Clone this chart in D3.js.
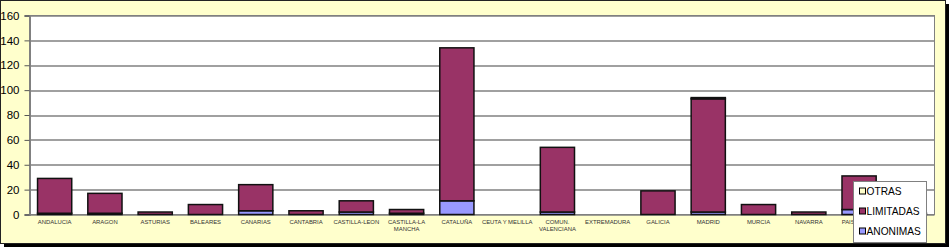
<!DOCTYPE html>
<html>
<head>
<meta charset="utf-8">
<script src="https://cdn.jsdelivr.net/npm/d3@7"></script>
<style>
  body { margin: 0; background: #fff; }
  svg { display: block; font-family: "Liberation Sans", Arial, sans-serif; }
</style>
</head>
<body>
<div id="chart"></div>
<script>

// regions (x axis)
var regions = ["ANDALUCIA", "ARAGON", "ASTURIAS", "BALEARES", "CANARIAS", "CANTABRIA",
  "CASTILLA-LEON", "CASTILLA-LA MANCHA", "CATALUÑA", "CEUTA Y MELILLA", "COMUN. VALENCIANA",
  "EXTREMADURA", "GALICIA", "MADRID", "MURCIA", "NAVARRA", "PAIS VASCO", "LA RIOJA"];

// multi-line labels as they appear under the axis
var regionLabels = {
  "CASTILLA-LA MANCHA": ["CASTILLA-LA", "MANCHA"],
  "COMUN. VALENCIANA": ["COMUN.", "VALENCIANA"]
};

// series values, one per region
var anonimas  = [1, 1, 0, 0, 3, 0, 2, 1, 11, 0, 2, 0, 0, 2, 0, 0, 4, 0];
var limitadas = [28, 16, 2, 8, 21, 3, 9, 3, 123, 0, 52, 0, 19, 91, 8, 2, 27, 1];
var otras     = [0, 0, 0, 0, 0, 0, 0, 0, 0, 0, 0, 0, 0, 1, 0, 0, 0, 0];

var seriesNames = ["ANONIMAS", "LIMITADAS", "OTRAS"];
var seriesColors = ["#9999FF", "#993366", "#FFFFCC"];
var yTicks = [0, 20, 40, 60, 80, 100, 120, 140, 160];

var svgWidth = 951;
var svgHeight = 248;

var margin = { top: 15.5, left: 29.5, right: 16.5, bottom: 33.5 };
var width = svgWidth - margin.left - margin.right;
var height = svgHeight - margin.top - margin.bottom;

var svg = d3.select("#chart")
  .append("svg")
  .attr("width", svgWidth)
  .attr("height", svgHeight);

// frame with shadow
svg.append("rect")
  .attr("x", 4).attr("y", 4)
  .attr("width", 945).attr("height", 243)
  .attr("fill", "#000");
svg.append("rect")
  .attr("x", 0.5).attr("y", 0.5)
  .attr("width", 945).attr("height", 243)
  .attr("fill", "#FFFFCC")
  .attr("stroke", "#222");

var chartGroup = svg.append("g")
  .attr("transform", `translate(${margin.left}, ${margin.top})`);

// plot area
chartGroup.append("rect")
  .attr("width", width).attr("height", height)
  .attr("fill", "#fff")
  .attr("stroke", "#808080");

// scales
var xScale = d3.scaleBand()
  .domain(regions)
  .range([0, width])
  .paddingInner(0.32)
  .paddingOuter(0.16);

var yScale = d3.scaleLinear()
  .domain([0, 160])
  .range([height, 0]);

// gridlines
chartGroup.selectAll(".grid")
  .data(yTicks)
  .enter()
  .append("line")
  .attr("x1", 0).attr("x2", width)
  .attr("y1", d => Math.round(yScale(d)) + 0.5)
  .attr("y2", d => Math.round(yScale(d)) + 0.5)
  .attr("stroke", "#808080")
  .attr("stroke-width", 1.5);

// y axis
var yAxis = d3.axisLeft(yScale).tickValues(yTicks).tickSize(5).tickPadding(5);
var yAxisG = chartGroup.append("g").call(yAxis);
yAxisG.select(".domain").attr("stroke", "#808080").attr("stroke-width", 2);
yAxisG.selectAll(".tick line").attr("stroke", "#555");
yAxisG.selectAll("text")
  .attr("font-family", "Liberation Sans, Arial, sans-serif")
  .attr("font-size", 11.5)
  .attr("fill", "#000");

// stacked data
var table = regions.map(function(r, i) {
  return { region: r, ANONIMAS: anonimas[i], LIMITADAS: limitadas[i], OTRAS: otras[i] };
});
var stacked = d3.stack().keys(seriesNames)(table);

var layers = chartGroup.selectAll(".layer")
  .data(stacked)
  .enter()
  .append("g")
  .attr("fill", (d, i) => seriesColors[i]);

layers.selectAll("rect")
  .data(d => d.filter(p => p[1] > p[0]))
  .enter()
  .append("rect")
  .attr("x", d => xScale(d.data.region))
  .attr("width", xScale.bandwidth())
  .attr("y", d => yScale(d[1]))
  .attr("height", d => yScale(d[0]) - yScale(d[1]))
  .attr("stroke", "#111")
  .attr("stroke-width", 1.5);

// x labels
var xLabels = chartGroup.selectAll(".xlab")
  .data(regions)
  .enter()
  .append("text")
  .attr("x", d => xScale(d) + xScale.bandwidth() / 2)
  .attr("y", height + 9)
  .attr("text-anchor", "middle")
  .attr("font-size", 5.9)
  .attr("fill", "#333");

xLabels.selectAll("tspan")
  .data(d => regionLabels[d] || [d])
  .enter()
  .append("tspan")
  .attr("x", function() { return d3.select(this.parentNode).attr("x"); })
  .attr("dy", (d, i) => i === 0 ? 0 : 7.5)
  .text(d => d);

// legend
var legend = svg.append("g")
  .attr("transform", "translate(853.5, 181.5)");
legend.append("rect")
  .attr("width", 73).attr("height", 61)
  .attr("fill", "#fff")
  .attr("stroke", "#808080");

var legendOrder = [2, 1, 0];
var items = legend.selectAll(".item")
  .data(legendOrder)
  .enter()
  .append("g")
  .attr("transform", (d, i) => `translate(6, ${10 + i * 20})`);
items.append("rect")
  .attr("x", 0).attr("y", -3.5)
  .attr("width", 6).attr("height", 6)
  .attr("fill", d => seriesColors[d])
  .attr("stroke", "#000");
items.append("text")
  .attr("x", 7)
  .attr("y", 3.5)
  .attr("font-size", 10.2)
  .attr("fill", "#000")
  .text(d => seriesNames[d]);

</script>
</body>
</html>
